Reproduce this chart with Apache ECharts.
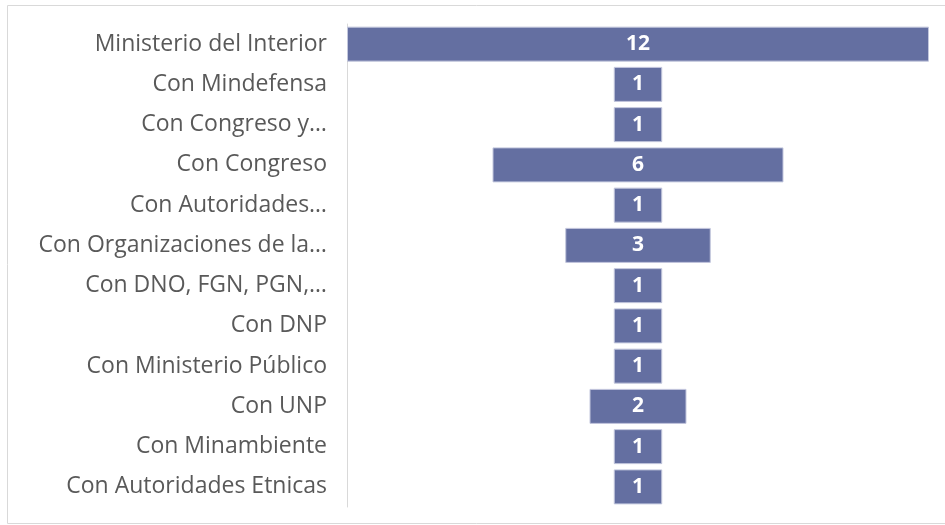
<!DOCTYPE html>
<html>
<head>
<meta charset="utf-8">
<script src="https://cdn.jsdelivr.net/npm/echarts@6/dist/echarts.min.js"></script>
<style>
  html, body { margin: 0; padding: 0; background: #fff; }
  #chart { width: 945px; height: 525px; }
</style>
</head>
<body>
<div id="chart"></div>
<script>
const categories = [
  'Ministerio del Interior',
  'Con Mindefensa',
  'Con Congreso y…',
  'Con Congreso',
  'Con Autoridades…',
  'Con Organizaciones de la…',
  'Con DNO, FGN, PGN,…',
  'Con DNP',
  'Con Ministerio Público',
  'Con UNP',
  'Con Minambiente',
  'Con Autoridades Etnicas'
]
const values = [12, 1, 1, 6, 1, 3, 1, 1, 1, 2, 1, 1]

const maxValue = Math.max(...values)
// hidden offset so each bar sits centred, like a funnel
const offsets = values.map(v => (maxValue - v) / 2)

const chart = echarts.init(document.getElementById('chart'))

chart.setOption({
  animation: false,
  graphic: [
    {
      type: 'rect',
      shape: { x: 7.5, y: 5.5, width: 960, height: 518 },
      style: { fill: 'none', stroke: '#d9d9d9', lineWidth: 1 },
      silent: true,
    },
  ],
  grid: { left: 347, right: 16, top: 24, bottom: 18 },
  xAxis: {
    type: 'value',
    min: 0,
    max: maxValue,
    show: false,
  },
  yAxis: {
    type: 'category',
    inverse: true,
    data: categories,
    axisLine: { show: true, lineStyle: { color: '#d9d9d9', width: 1 } },
    axisTick: { show: false },
    splitLine: { show: false },
    axisLabel: {
      fontFamily: 'Open Sans',
      fontSize: 23,
      color: '#595959',
      margin: 20,
    },
  },
  series: [
    {
      name: 'offset',
      type: 'bar',
      stack: 'total',
      data: offsets,
      itemStyle: { color: 'transparent' },
      silent: true,
      barWidth: 35,
    },
    {
      name: 'valor',
      type: 'bar',
      stack: 'total',
      data: values,
      barWidth: 35,
      itemStyle: {
        color: '#646FA1',
        borderColor: '#c3c7dd',
        borderWidth: 1,
      },
      label: {
        show: true,
        position: 'inside',
        color: '#fff',
        fontFamily: 'Open Sans',
        fontSize: 21,
        fontWeight: 'bold',
      },
    },
  ],
})
</script>
</body>
</html>
